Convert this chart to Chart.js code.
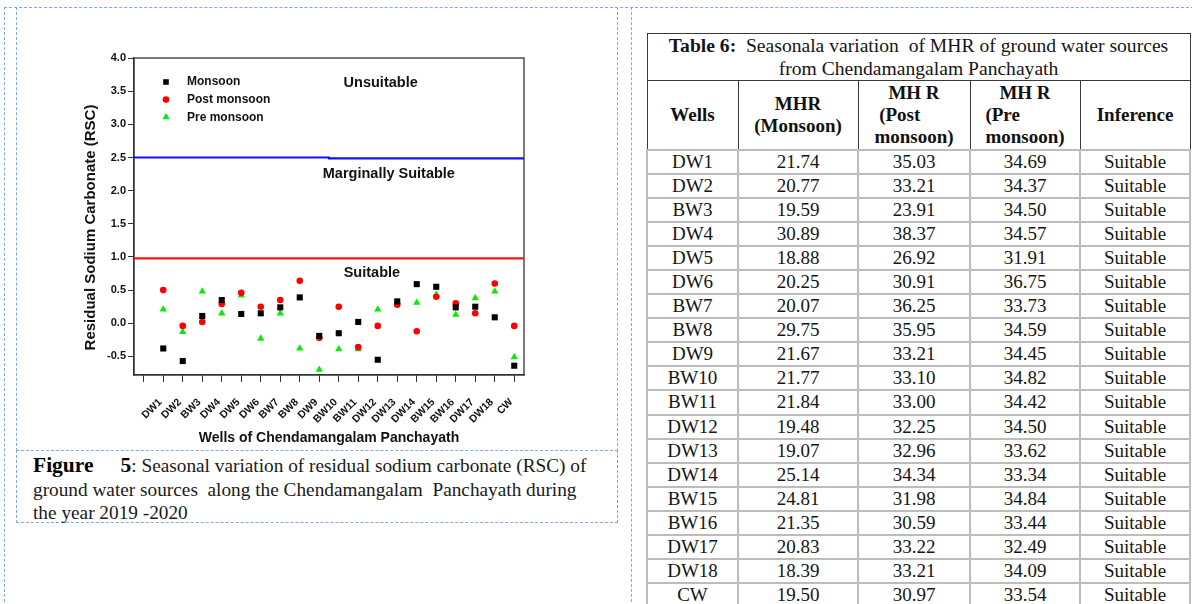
<!DOCTYPE html>
<html>
<head>
<meta charset="utf-8">
<title>RSC and MHR of ground water sources, Chendamangalam Panchayath</title>
<script src="https://cdn.jsdelivr.net/npm/chart.js@4.4.1/dist/chart.umd.min.js"></script>
<style>
  html, body { margin: 0; padding: 0; background: #fff; width: 1192px; height: 604px; overflow: hidden; }
  .dash { position: absolute; border: 0 dashed #7ea8ea; box-sizing: border-box; }
  #chartBox { position: absolute; left: 0; top: 0; width: 620px; height: 450px; }
  #caption {
    position: absolute; left: 33px; top: 454px; white-space: pre;
    font-family: "Liberation Serif", "Times New Roman", serif; font-size: 19.3px; line-height: 23.5px; color: #1a1a1a;
  }
  #caption b { font-size: 21.5px; color: #000; }
  #caption .gap { display: inline-block; width: 27px; }
  #mhr {
    position: absolute; left: 646px; top: 33px; width: 543px; table-layout: fixed;
    border-collapse: collapse; font-family: "Liberation Serif", "Times New Roman", serif;
    font-size: 19px; color: #151515;
  }
  #mhr td, #mhr th { padding: 0; text-align: center; border: 2px solid #bcbcbc; }
  #mhr tr.cap td { height: 44px; line-height: 23px; border: 1.5px solid #3a3a3a; font-size: 19.6px; white-space: pre; }
  #mhr thead tr.head th { height: 68px; line-height: 22px; border: 1.5px solid #3a3a3a; font-weight: bold; color: #111; }
  #mhr tbody tr { height: 24.06px; }
  #mhr tbody td { line-height: 20px; }
  #mhr .lb { display: inline-block; text-align: left; }
</style>
</head>
<body>
<!-- page layout frames -->
<div class="dash" style="left:4px;top:7px;width:1200px;height:1px;border-top-width:1px"></div>
<div class="dash" style="left:4px;top:7px;width:1px;height:610px;border-left-width:1px"></div>
<div class="dash" style="left:631px;top:7px;width:1px;height:610px;border-left-width:1px"></div>
<div class="dash" style="left:16px;top:7px;width:602px;height:444px;border-left-width:1px;border-right-width:1px;border-bottom-width:1px"></div>
<div class="dash" style="left:16px;top:450px;width:602px;height:73px;border-left-width:1px;border-right-width:1px;border-bottom-width:1px"></div>

<div id="chartBox"><canvas id="rsc"></canvas></div>

<div id="caption"><b>Figure</b><span class="gap"></span><b>5</b>: Seasonal variation of residual sodium carbonate (RSC) of
ground water sources  along the Chendamangalam  Panchayath during
the year 2019 -2020</div>

<table id="mhr">
  <colgroup><col style="width:91px"><col style="width:120px"><col style="width:112px"><col style="width:110px"><col style="width:110px"></colgroup>
  <thead>
    <tr class="cap"><td colspan="5"><b>Table 6:</b>  Seasonala variation  of MHR of ground water sources
from Chendamangalam Panchayath</td></tr>
    <tr class="head">
      <th>Wells</th>
      <th>MHR<br>(Monsoon)</th>
      <th>MH R<br><span class="lb">&nbsp;(Post<br>monsoon)</span></th>
      <th>MH R<br><span class="lb">(Pre<br>monsoon)</span></th>
      <th>Inference</th>
    </tr>
  </thead>
  <tbody id="mhrBody"></tbody>
</table>

<script>
// Wells sampled in the panchayath (x-axis categories and table rows)
const wells = ['DW1','DW2','BW3','DW4','DW5','DW6','BW7','BW8','DW9','BW10','BW11','DW12','DW13','DW14','BW15','BW16','DW17','DW18','CW'];

// Residual sodium carbonate (RSC) per season
const rscMonsoon = [-0.38,-0.57,0.11,0.35,0.14,0.15,0.24,0.39,-0.19,-0.15,0.02,-0.55,0.33,0.59,0.55,0.24,0.25,0.09,-0.64];
const rscPostMonsoon = [0.50,-0.04,0.02,0.29,0.46,0.25,0.35,0.64,-0.22,0.25,-0.36,-0.04,0.28,-0.12,0.40,0.30,0.15,0.60,-0.04];
const rscPreMonsoon = [0.21,-0.13,0.48,0.15,0.42,-0.23,0.15,-0.38,-0.70,-0.39,-0.39,0.21,0.32,0.31,0.43,0.13,0.38,0.48,-0.51];

// Class boundaries (left half / right half of the plot)
const unsuitableLimit = [2.5, 2.485];
const suitableLimit = [0.98, 0.98];

// Axis ticks
const yTickValues = [-0.5, 0.0, 0.5, 1.0, 1.5, 2.0, 2.5, 3.0, 3.5, 4.0];
const xTickValues = [0,1,2,3,4,5,6,7,8,9,10,11,12,13,14,15,16,17,18,19];

// Magnesium hazard ratio (MHR) per season
const mhrMonsoon = [21.74,20.77,19.59,30.89,18.88,20.25,20.07,29.75,21.67,21.77,21.84,19.48,19.07,25.14,24.81,21.35,20.83,18.39,19.50];
const mhrPostMonsoon = [35.03,33.21,23.91,38.37,26.92,30.91,36.25,35.95,33.21,33.10,33.00,32.25,32.96,34.34,31.98,30.59,33.22,33.21,30.97];
const mhrPreMonsoon = [34.69,34.37,34.50,34.57,31.91,36.75,33.73,34.59,34.45,34.82,34.42,34.50,33.62,33.34,34.84,33.44,32.49,34.09,33.54];
const mhrInference = ['Suitable','Suitable','Suitable','Suitable','Suitable','Suitable','Suitable','Suitable','Suitable','Suitable','Suitable','Suitable','Suitable','Suitable','Suitable','Suitable','Suitable','Suitable','Suitable'];

// ---- table ----
const body = document.getElementById('mhrBody');
wells.forEach((w, i) => {
  const tr = document.createElement('tr');
  [w, mhrMonsoon[i].toFixed(2), mhrPostMonsoon[i].toFixed(2), mhrPreMonsoon[i].toFixed(2), mhrInference[i]].forEach(t => {
    const td = document.createElement('td');
    td.textContent = t;
    tr.appendChild(td);
  });
  body.appendChild(tr);
});

// ---- chart ----
const SANS = '"Liberation Sans", Arial, Helvetica, sans-serif';
const AXIS = '#333333';
const asPoints = arr => arr.map((v, i) => ({ x: i + 1, y: v }));
const stepLine = lim => [{ x: -0.5, y: lim[0] }, { x: 9.5, y: lim[0] }, { x: 9.5, y: lim[1] }, { x: 19.5, y: lim[1] }];

// markers drawn in the in-plot key
function drawMarker(ctx, style, color, x, y) {
  ctx.save();
  ctx.fillStyle = color;
  ctx.beginPath();
  if (style === 'rect') {
    ctx.rect(x - 2.8, y - 2.8, 5.6, 5.6);
  } else if (style === 'circle') {
    ctx.arc(x, y, 3.3, 0, Math.PI * 2);
  } else {
    const r = 4.2;
    ctx.moveTo(x, y - r);
    ctx.lineTo(x + r * Math.sin(Math.PI * 2 / 3), y - r * Math.cos(Math.PI * 2 / 3));
    ctx.lineTo(x + r * Math.sin(Math.PI * 4 / 3), y - r * Math.cos(Math.PI * 4 / 3));
    ctx.closePath();
  }
  ctx.fill();
  ctx.restore();
}

const plotDecor = {
  id: 'plotDecor',
  beforeDatasetsDraw(chart) {
    const { ctx, chartArea: a } = chart;
    ctx.save();
    ctx.strokeStyle = AXIS;
    ctx.lineWidth = 1.3;
    ctx.strokeRect(a.left, a.top, a.right - a.left, a.bottom - a.top);
    ctx.restore();
  },
  afterDatasetsDraw(chart) {
    const { ctx, chartArea: a, scales: { x, y } } = chart;
    ctx.save();
    ctx.fillStyle = '#111';
    ctx.textAlign = 'center';
    ctx.textBaseline = 'middle';
    ctx.font = 'bold 14.5px ' + SANS;
    ctx.fillText('Unsuitable', x.getPixelForValue(12.15), y.getPixelForValue(3.63));
    ctx.fillText('Marginally Suitable', x.getPixelForValue(12.57), y.getPixelForValue(2.245));
    ctx.fillText('Suitable', x.getPixelForValue(11.7), y.getPixelForValue(0.76));

    // key
    ctx.font = 'bold 12px ' + SANS;
    ctx.textAlign = 'left';
    chart.data.datasets.filter(d => d.inKey).forEach((d, i) => {
      const cy = a.top + 24 + i * 17.6;
      drawMarker(ctx, d.pointStyle, d.backgroundColor, a.left + 32, cy);
      ctx.fillStyle = '#111';
      ctx.fillText(d.label, a.left + 53, cy);
    });

    // y-axis title
    ctx.font = 'bold 15px ' + SANS;
    ctx.textAlign = 'center';
    ctx.fillStyle = '#111';
    ctx.translate(a.left - 43, (a.top + a.bottom) / 2 + 11);
    ctx.rotate(-Math.PI / 2);
    ctx.fillText('Residual Sodium Carbonate (RSC)', 0, 0);
    ctx.restore();
  }
};

new Chart(document.getElementById('rsc'), {
  type: 'scatter',
  data: {
    datasets: [
      { label: 'Monsoon', inKey: true, data: asPoints(rscMonsoon), pointStyle: 'rect', pointRadius: 4.3,
        backgroundColor: '#000000', borderColor: '#000000', borderWidth: 0 },
      { label: 'Post monsoon', inKey: true, data: asPoints(rscPostMonsoon), pointStyle: 'circle', pointRadius: 3.3,
        backgroundColor: '#ff0000', borderColor: '#ff0000', borderWidth: 0 },
      { label: 'Pre monsoon', inKey: true, data: asPoints(rscPreMonsoon), pointStyle: 'triangle', pointRadius: 4.2,
        backgroundColor: '#00ee00', borderColor: '#00ee00', borderWidth: 0 },
      { label: 'RSC 2.5 limit', data: stepLine(unsuitableLimit), showLine: true, pointRadius: 0,
        borderColor: '#1010ff', borderWidth: 2.2, fill: false },
      { label: 'RSC 1.0 limit', data: stepLine(suitableLimit), showLine: true, pointRadius: 0,
        borderColor: '#ff1010', borderWidth: 2.2, fill: false }
    ]
  },
  options: {
    responsive: true,
    maintainAspectRatio: false,
    animation: false,
    events: [],
    layout: { padding: { left: 100, top: 58, right: 96, bottom: 3 } },
    plugins: { legend: { display: false }, tooltip: { enabled: false } },
    scales: {
      x: {
        type: 'linear', min: -0.5, max: 19.5,
        afterFit: s => { s.height = 72; },
        afterBuildTicks: s => { s.ticks = xTickValues.map(v => ({ value: v })); },
        ticks: {
          autoSkip: false, minRotation: 45, maxRotation: 45, padding: 14, labelOffset: -3,
          color: '#111', font: { family: SANS, size: 10.5, weight: 'bold' },
          callback: v => (v >= 1 && v <= wells.length ? wells[v - 1] : '')
        },
        grid: { drawOnChartArea: false, drawTicks: true, tickLength: 7, color: AXIS, lineWidth: 1 },
        border: { display: true, color: AXIS, width: 1.3 },
        title: { display: true, text: 'Wells of Chendamangalam Panchayath', color: '#111',
                 font: { family: SANS, size: 14, weight: 'bold' }, padding: { top: 0, bottom: 0 } }
      },
      y: {
        min: -0.78, max: 4.0,
        afterFit: s => { s.width = 34; },
        afterBuildTicks: s => { s.ticks = yTickValues.map(v => ({ value: v })); },
        ticks: { padding: 2, color: '#111', font: { family: SANS, size: 11, weight: 'bold' },
                 callback: v => Number(v).toFixed(1) },
        grid: { drawOnChartArea: false, drawTicks: true, tickLength: 6, color: AXIS, lineWidth: 1 },
        border: { display: true, color: AXIS, width: 1.3 }
      }
    }
  },
  plugins: [plotDecor]
});
</script>
</body>
</html>
